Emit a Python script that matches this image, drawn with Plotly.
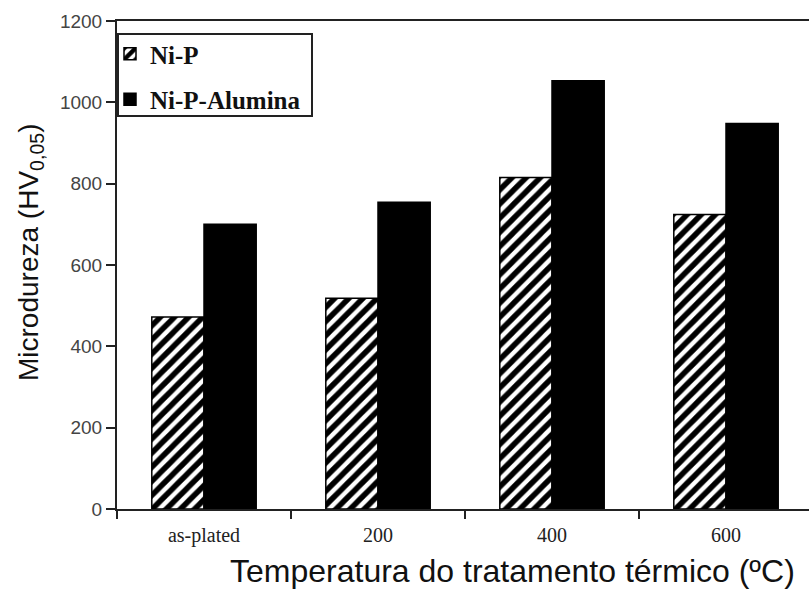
import plotly.graph_objects as go

categories = ["as-plated", "200", "400", "600"]
nip = [472, 518, 815, 724]
nip_alumina = [700, 754, 1053, 948]
y_ticks = [0, 200, 400, 600, 800, 1000, 1200]

W, H = 809, 590
L, R, T, B = 117, 0, 21, 81
pw = W - L - R
ph = H - T - B

def px_x(x):
    return (x - L) / pw

def px_y(y):
    return (H - B - y) / ph

fig = go.Figure()
fig.add_trace(go.Bar(
    x=categories, y=nip, name="Ni-P", legendgroup="a",
    marker=dict(color="white", line=dict(color="black", width=1.5),
                pattern=dict(shape="/", fgcolor="black", bgcolor="white", fgopacity=1,
                             size=10, solidity=0.55)),
))
fig.add_trace(go.Bar(
    x=categories, y=nip_alumina, name="Ni-P-Alumina", legendgroup="b",
    marker=dict(color="black", line=dict(color="black", width=1.5)),
))

fig.update_layout(
    width=W, height=H,
    margin=dict(l=L, r=R, t=T, b=B),
    paper_bgcolor="white", plot_bgcolor="white",
    barmode="group", bargap=0.4, bargroupgap=0,
    showlegend=True,
    legend=dict(x=px_x(110), y=px_y(31), xanchor="left", yanchor="top",
                bgcolor="rgba(0,0,0,0)", borderwidth=0,
                font=dict(family="Liberation Serif", size=25, color="#111", weight="bold"),
                traceorder="grouped", tracegroupgap=10),
    xaxis=dict(range=[-0.5, -0.5 + pw / 174.0], showline=True, linecolor="#222", linewidth=2,
               mirror=True, ticks="outside", tickson="boundaries", ticklen=8, tickwidth=2,
               tickcolor="#222", showgrid=False, zeroline=False, ticklabelstandoff=7,
               tickfont=dict(family="Liberation Serif", size=20, color="#222")),
    yaxis=dict(range=[0, 1200], tickvals=y_ticks, showline=True, linecolor="#222", linewidth=2,
               ticks="outside", ticklen=9, tickwidth=2, tickcolor="#222",
               showgrid=False, zeroline=False,
               tickfont=dict(family="Liberation Sans", size=19, color="#444")),
    shapes=[dict(type="rect", xref="paper", yref="paper",
                 x0=px_x(118), x1=px_x(312), y0=px_y(116), y1=px_y(34),
                 line=dict(color="#222", width=2), fillcolor="rgba(0,0,0,0)")],
    annotations=[
        dict(text="Temperatura do tratamento térmico (ºC)", xref="paper", yref="paper",
             x=px_x(512), y=px_y(571), xanchor="center", yanchor="middle", showarrow=False,
             font=dict(family="Liberation Sans", size=32, color="#111")),
        dict(text="Microdureza (HV<sub>0,05</sub>)", xref="paper", yref="paper",
             x=px_x(30), y=px_y(252), xanchor="center", yanchor="middle", showarrow=False,
             textangle=-90, font=dict(family="Liberation Sans", size=28, color="#111")),
    ],
)

fig.write_html("out.html")
